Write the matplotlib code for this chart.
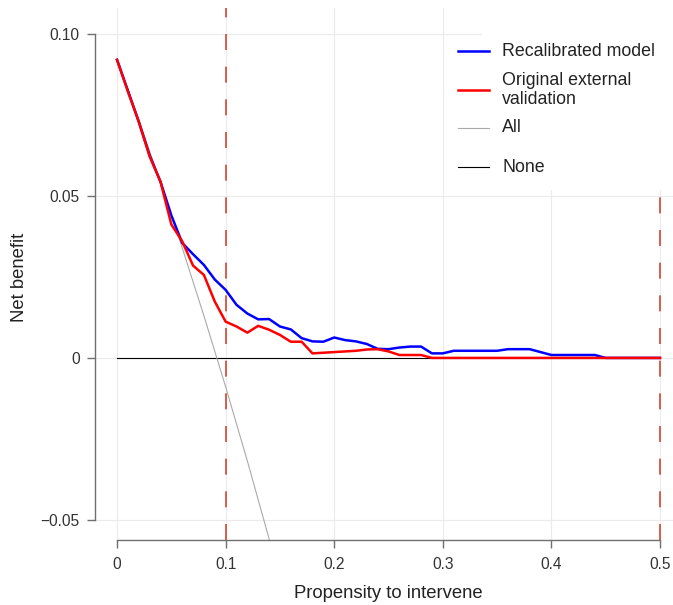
import matplotlib
matplotlib.use("Agg")
import matplotlib.pyplot as plt
from matplotlib.patches import Rectangle

plt.rcParams['font.family'] = ['Liberation Sans', 'DejaVu Sans']

# threshold probabilities and net benefit
thresh = [0.00, 0.01, 0.02, 0.03, 0.04, 0.05, 0.06, 0.07, 0.08, 0.09,
          0.10, 0.11, 0.12, 0.13, 0.14, 0.15, 0.16, 0.17, 0.18, 0.19,
          0.20, 0.21, 0.22, 0.23, 0.24, 0.25, 0.26, 0.27, 0.28, 0.29,
          0.30, 0.31, 0.32, 0.33, 0.34, 0.35, 0.36, 0.37, 0.38, 0.39,
          0.40, 0.41, 0.42, 0.43, 0.44, 0.45, 0.46, 0.47, 0.48, 0.49, 0.50]

nb_recal = [0.0920, 0.0825, 0.0729, 0.0625, 0.0544, 0.0440, 0.0355, 0.0320, 0.0287, 0.0242,
            0.0210, 0.0164, 0.0137, 0.0119, 0.0120, 0.0097, 0.0088, 0.0061, 0.0051, 0.0050,
            0.0063, 0.0055, 0.0051, 0.0043, 0.0028, 0.0027, 0.0032, 0.0035, 0.0035, 0.0014,
            0.0014, 0.0022, 0.0022, 0.0022, 0.0022, 0.0022, 0.0027, 0.0027, 0.0027, 0.0018,
            0.0009, 0.0009, 0.0009, 0.0009, 0.0009, 0.0000, 0.0000, 0.0000, 0.0000, 0.0000, 0.0000]

nb_orig = [0.0920, 0.0822, 0.0729, 0.0622, 0.0544, 0.0412, 0.0360, 0.0285, 0.0256, 0.0174,
           0.0112, 0.0097, 0.0078, 0.0099, 0.0087, 0.0071, 0.0050, 0.0050, 0.0014, 0.0016,
           0.0018, 0.0020, 0.0022, 0.0026, 0.0027, 0.0020, 0.0009, 0.0009, 0.0009, 0.0000,
           0.0000, 0.0000, 0.0000, 0.0000, 0.0000, 0.0000, 0.0000, 0.0000, 0.0000, 0.0000,
           0.0000, 0.0000, 0.0000, 0.0000, 0.0000, 0.0000, 0.0000, 0.0000, 0.0000, 0.0000, 0.0000]

all_x = [0.00, 0.02, 0.04, 0.06, 0.08, 0.10, 0.12, 0.14, 0.15]
all_y = [0.0920, 0.0735, 0.0542, 0.0340, 0.0130, -0.0089, -0.0318, -0.0558, -0.0685]

none_x = [0.0, 0.5]
none_y = [0.0, 0.0]

cutoffs = [0.1, 0.5]

legend_labels = ['Recalibrated model', 'Original external\nvalidation', 'All', 'None']
legend_colors = ['#0000ff', '#ff0000', '#aaaaaa', '#000000']
legend_widths = [1.8, 1.8, 0.8, 0.8]

xticks = [0, 0.1, 0.2, 0.3, 0.4, 0.5]
xticklabels = ['0', '0.1', '0.2', '0.3', '0.4', '0.5']
yticks = [-0.05, 0, 0.05, 0.10]
yticklabels = ['\u22120.05', '0', '0.05', '0.10']

W, H = 673, 605
fig = plt.figure(figsize=(W / 100, H / 100), dpi=100)
# axes box in pixels: left 95, right 673, top 8, bottom 540
ax = fig.add_axes([95 / W, (H - 540) / H, (673 - 95) / W, (540 - 8) / H])

ax.set_xlim(-0.0203, 0.512)
ax.set_ylim(-0.0562, 0.108)

ax.grid(True, color='#ebebeb', linewidth=0.8, zorder=0)
ax.set_axisbelow(True)

for c in cutoffs:
    ax.axvline(c, color='#d0452e', linewidth=1.2, dashes=(9.6, 10.0), zorder=2)

# white legend background
ax.add_patch(Rectangle(((482 - 95) / 578, (540 - 190) / 532), 1, 1,
                       transform=ax.transAxes, facecolor='white', edgecolor='none',
                       zorder=3, clip_on=True))

ax.plot(none_x, none_y, color='#000000', linewidth=0.8, zorder=4)
ax.plot(all_x, all_y, color='#aaaaaa', linewidth=0.8, zorder=4)
ax.plot(thresh, nb_recal, color='#0000ff', linewidth=1.8, zorder=5)
ax.plot(thresh, nb_orig, color='#ff0000', linewidth=1.8, zorder=6)

# legend drawn by hand to match row spacing
rows_px = [51, 90, 128, 167]
for lab, col, lw, py in zip(legend_labels, legend_colors, legend_widths, rows_px):
    yy = (540 - py) / 532
    ax.plot([(458 - 95) / 578, (489 - 95) / 578], [yy, yy], color=col, linewidth=lw,
            transform=ax.transAxes, zorder=7, clip_on=False)
    ax.text((502 - 95) / 578, yy, lab, transform=ax.transAxes, fontsize=12.8,
            color='#222222', va='center', ha='left', linespacing=1.12, zorder=7)

for s in ['top', 'right']:
    ax.spines[s].set_visible(False)
ax.spines['left'].set_bounds(-0.05, 0.10)
ax.spines['bottom'].set_bounds(0, 0.5)
for s in ['left', 'bottom']:
    ax.spines[s].set_color('#707070')
    ax.spines[s].set_linewidth(1.0)

ax.set_xticks(xticks)
ax.set_xticklabels(xticklabels)
ax.set_yticks(yticks)
ax.set_yticklabels(yticklabels)
ax.tick_params(axis='both', direction='out', length=6, width=1.0, color='#707070',
               labelsize=11.2, labelcolor='#333333')
ax.tick_params(axis='x', pad=6)
ax.tick_params(axis='y', pad=5)

ax.set_xlabel('Propensity to intervene', fontsize=13.3, color='#222222')
ax.xaxis.set_label_coords((388.5 - 95) / 578, -(594 - 540) / 532)
ax.set_ylabel('Net benefit', fontsize=13.3, color='#222222')
ax.yaxis.set_label_coords(-(95 - 20) / 578, (540 - 277) / 532)
ax.xaxis.label.set_va('center')
ax.yaxis.label.set_va('center')

fig.savefig('out.png', dpi=100)
